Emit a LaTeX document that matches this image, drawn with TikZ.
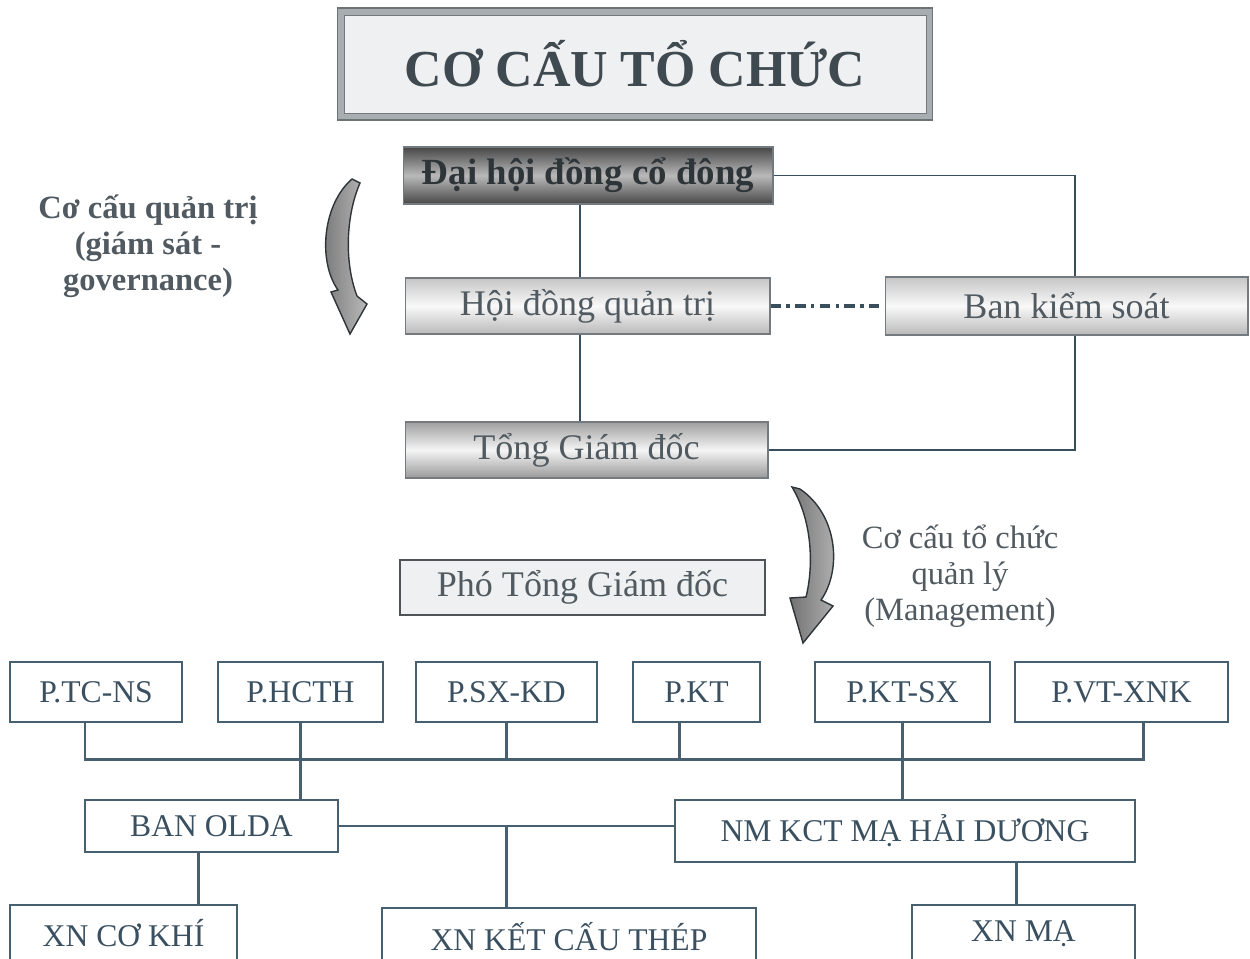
\documentclass[tikz,border=0pt]{standalone}
\usepackage{fontspec}
\setmainfont{Liberation Serif}
\usetikzlibrary{calc}
\definecolor{Slate}{HTML}{46606F}
\definecolor{SlateInk}{HTML}{3A5060}
\definecolor{GrayInk}{HTML}{505A60}
\definecolor{DarkInk}{HTML}{2E3539}
\definecolor{TitleInk}{HTML}{3F4950}
\definecolor{Frame}{HTML}{A7ADB1}
\definecolor{Paper}{HTML}{EEF0F1}
\definecolor{WireInk}{HTML}{3A4F5D}

\tikzset{
  orgbox/.style={draw=Slate,line width=1.4pt,fill=white,text=SlateInk,inner sep=0pt,
    minimum height=1.2cm,font=\fontsize{18}{20}\selectfont},
  govtext/.style={draw=GrayInk!80,line width=0.6pt,inner sep=0pt,text=GrayInk,
    font=\fontsize{20.5}{22}\selectfont},
  govbox/.style={govtext,top color=gray!45,bottom color=gray!55,middle color=gray!5},
  govwire/.style={draw=WireInk,line width=1.1pt},
  wire/.style={draw=Slate,line width=1.5pt},
  bendarrow/.style={draw=DarkInk,line width=0.8pt,left color=gray!90!black,right color=gray!55},
  sidenote/.style={text=GrayInk,align=center,font=\fontsize{18.5}{20.5}\selectfont}
}

\begin{document}
\begin{tikzpicture}[x=0.02cm,y=-0.02cm]
  \useasboundingbox (0,0) rectangle (1250,958);
  \clip (0,0) rectangle (1250,958);
  \fill[white] (0,0) rectangle (1250,958);

  % title
  \node[fill=Frame,draw=DarkInk!70,line width=0.6pt,minimum width=11.92cm,minimum height=2.24cm] (titleframe) at (635,64) {};
  \node[fill=Paper,draw=Frame!70!black,line width=0.4pt,minimum width=11.64cm,minimum height=1.96cm,
    text=TitleInk,font=\bfseries\fontsize{29.5}{31}\selectfont] (title) at (titleframe) {CƠ CẤU TỔ CHỨC};

  % governance part
  \node[govtext,minimum width=7.4cm,minimum height=1.14cm,top color=black!72,bottom color=black!72,
    middle color=gray!55,text=DarkInk,font=\bfseries\fontsize{21}{23}\selectfont] (dhcd) at (588,175.5) {Đại hội đồng cổ đông};
  \node[govbox,minimum width=7.3cm,minimum height=1.12cm] (hdqt) at (587.5,306) {Hội đồng quản trị};
  \node[govbox,minimum width=7.26cm,minimum height=1.16cm] (bks) at (1066.5,306) {Ban kiểm soát};
  \node[govtext,minimum width=7.26cm,minimum height=1.12cm,top color=gray!75,bottom color=gray!80,
    middle color=gray!8] (tgd) at (586.5,450) {Tổng Giám đốc};
  \node[govtext,minimum width=7.3cm,minimum height=1.1cm,fill=Paper,draw=DarkInk!85,line width=1.1pt] (ptgd) at (582.5,587.5) {Phó Tổng Giám đốc};

  \coordinate (spine) at (580,0);
  \coordinate (bkscol) at (1075,0);
  \draw[govwire] (dhcd.south -| spine) -- (hdqt.north -| spine);
  \draw[govwire] (hdqt.south -| spine) -- (tgd.north -| spine);
  \draw[govwire] (dhcd.east) -| (bks.north -| bkscol);
  \draw[govwire] (tgd.east) -| (bks.south -| bkscol);
  \draw[govwire,line width=2pt,dash pattern=on 6pt off 3pt on 2pt off 3pt] (hdqt.east) -- (bks.west);

  % side notes and bent arrows
  \node[sidenote,font=\bfseries\fontsize{18.5}{20.5}\selectfont] (govnote) at (148,246) {Cơ cấu quản trị\\(giám sát -\\governance)};
  \node[sidenote] (mgmtnote) at (960,576) {Cơ cấu tổ chức\\quản lý\\(Management)};
  \draw[bendarrow] (352,179) -- (360,183) .. controls (346,215) and (344,262) .. (357,296)
    -- (367,304) -- (350,334) -- (331,292) -- (338,290) .. controls (318,262) and (322,205) .. (352,179) -- cycle;
  \draw[bendarrow] (792,487) -- (800,489) .. controls (838,515) and (842,570) .. (821,600)
    -- (833,606) -- (803,643) -- (790,598) -- (806,597) .. controls (814,565) and (812,520) .. (792,487) -- cycle;

  % departments
  \node[orgbox,minimum width=3.44cm] (tcns) at (96,692) {P.TC-NS};
  \node[orgbox,minimum width=3.3cm] (hcth) at (300.5,692) {P.HCTH};
  \node[orgbox,minimum width=3.62cm] (sxkd) at (506.5,692) {P.SX-KD};
  \node[orgbox,minimum width=2.54cm] (kt) at (696.5,692) {P.KT};
  \node[orgbox,minimum width=3.5cm] (ktsx) at (902.5,692) {P.KT-SX};
  \node[orgbox,minimum width=4.26cm] (vtxnk) at (1121.5,692) {P.VT-XNK};

  \node[orgbox,minimum width=5.06cm,minimum height=1.04cm] (olda) at (211.5,826) {BAN OLDA};
  \node[orgbox,minimum width=9.2cm,minimum height=1.24cm] (nm) at (905,831) {NM KCT MẠ HẢI DƯƠNG};

  \node[orgbox,minimum width=4.54cm,minimum height=1.14cm] (cokhi) at (123.5,933.5) {XN CƠ KHÍ};
  \node[orgbox,minimum width=7.48cm,minimum height=1.14cm] (ketcau) at (569,936.5) {XN KẾT CẤU THÉP};
  \node[orgbox,minimum width=4.46cm,minimum height=1.14cm] (xnma) at (1023.5,933.5) {XN MẠ};

  % bus and drops
  \draw[wire] ($(tcns.south)+(-11,0)$) -- ++(0,36) -| ($(vtxnk.south)+(22,0)$);
  \draw[wire] (hcth.south) -- (hcth.south |- olda.north);
  \draw[wire] (sxkd.south) -- ++(0,36);
  \draw[wire] ($(kt.south)+(-17,0)$) -- ++(0,36);
  \draw[wire] (ktsx.south) -- (ktsx.south |- nm.north);
  \draw[wire] (olda.east) -- (olda.east -| nm.west);
  \draw[wire] (sxkd.south |- olda.east) -- (sxkd.south |- ketcau.north);
  \draw[wire] ($(olda.south)+(-13,0)$) -- ++(0,53);
  \draw[wire] ($(xnma.north)+(-7,0)$) -- ++(0,-43);
\end{tikzpicture}
\end{document}
